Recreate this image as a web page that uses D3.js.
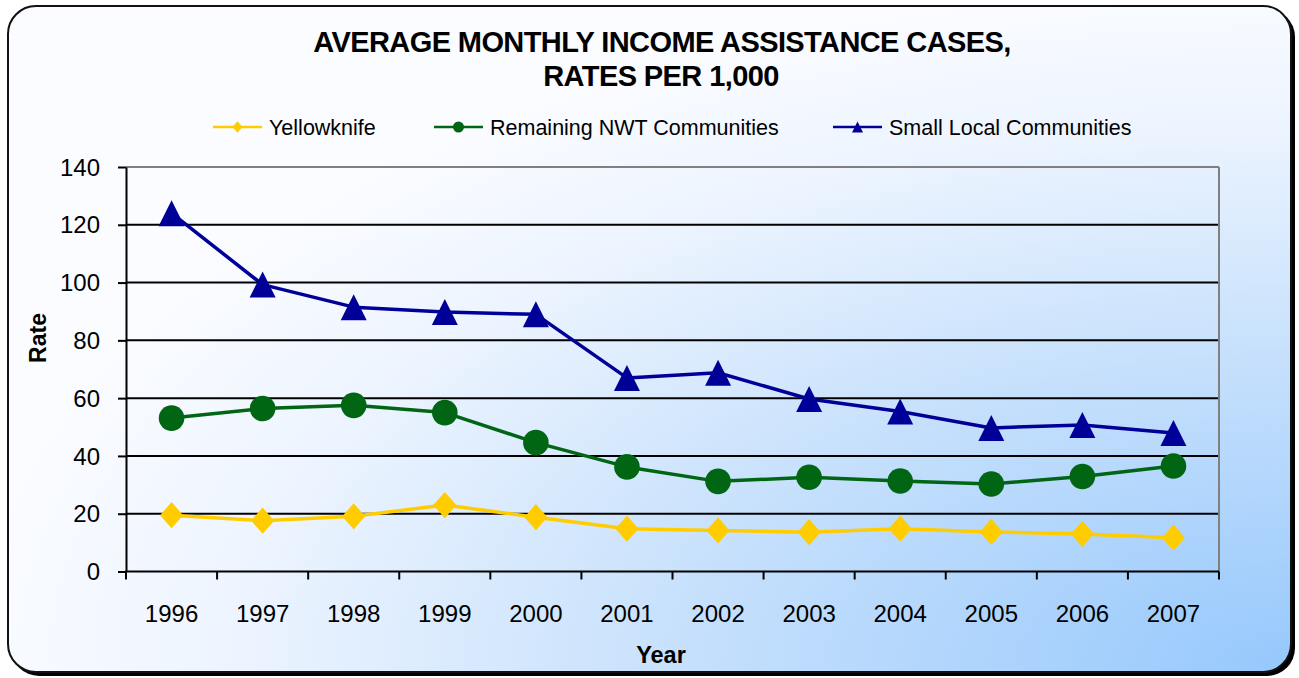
<!DOCTYPE html>
<html>
<head>
<meta charset="utf-8">
<script src="https://cdn.jsdelivr.net/npm/d3@7"></script>
<style>
  html, body { margin: 0; padding: 0; background: #ffffff; }
  svg { display: block; }
  text { font-family: "Liberation Sans", Arial, sans-serif; }
</style>
</head>
<body>
<svg id="chart" width="1299" height="678"></svg>
<script>
// ---- data ----
const years = ["1996","1997","1998","1999","2000","2001","2002","2003","2004","2005","2006","2007"];
const yellowknife = [19.5, 17.6, 19.1, 23.0, 18.8, 14.8, 14.2, 13.6, 14.8, 13.7, 13.0, 11.7];
const remainingNWT = [53.1, 56.4, 57.5, 55.0, 44.6, 36.2, 31.2, 32.6, 31.3, 30.3, 32.9, 36.5];
const smallLocal = [124.0, 99.3, 91.5, 89.8, 89.0, 67.0, 68.8, 59.7, 55.4, 49.7, 50.7, 47.9];
const yTicks = [0, 20, 40, 60, 80, 100, 120, 140];
const seriesNames = ["Yellowknife", "Remaining NWT Communities", "Small Local Communities"];
const titleLines = ["AVERAGE MONTHLY INCOME ASSISTANCE CASES,", "RATES PER 1,000"];

const svg = d3.select("#chart");

// ---- background / frame ----
const defs = svg.append("defs");
const grad = defs.append("radialGradient")
  .attr("id", "bg").attr("cx", 1).attr("cy", 1).attr("r", 1.05)
  .attr("fx", 1).attr("fy", 1);
grad.append("stop").attr("offset", "0%").attr("stop-color", "#96c8fc");
grad.append("stop").attr("offset", "45%").attr("stop-color", "#c6e0fc");
grad.append("stop").attr("offset", "80%").attr("stop-color", "#eef5ff");
grad.append("stop").attr("offset", "100%").attr("stop-color", "#fbfcff");

svg.append("rect").attr("x", 11).attr("y", 9).attr("width", 1284).attr("height", 667)
  .attr("rx", 28).attr("fill", "#000");
svg.append("rect").attr("x", 8).attr("y", 6).attr("width", 1283).attr("height", 666)
  .attr("rx", 28).attr("fill", "url(#bg)").attr("stroke", "#111").attr("stroke-width", 2);

// ---- scales ----
const plot = { left: 126, right: 1219, top: 167, bottom: 571.5 };
const x = d3.scaleBand().domain(years).range([plot.left, plot.right]).padding(0);
const y = d3.scaleLinear().domain([0, 140]).range([plot.bottom, plot.top]);
const cx = d => x(d) + x.bandwidth() / 2;

// ---- gridlines ----
svg.append("g").selectAll("line").data(yTicks.filter(t => t > 0 && t < 140)).join("line")
  .attr("x1", plot.left).attr("x2", plot.right)
  .attr("y1", d => y(d)).attr("y2", d => y(d))
  .attr("stroke", "#000").attr("stroke-width", 2);
// top & right border (grey)
svg.append("line").attr("x1", plot.left).attr("x2", plot.right).attr("y1", y(140)).attr("y2", y(140))
  .attr("stroke", "#808080").attr("stroke-width", 2);
svg.append("line").attr("x1", plot.right).attr("x2", plot.right).attr("y1", y(140)).attr("y2", y(0))
  .attr("stroke", "#808080").attr("stroke-width", 2);

// ---- y axis ----
const yAxis = svg.append("g").attr("transform", `translate(${plot.left},0)`)
  .call(d3.axisLeft(y).tickValues(yTicks).tickSize(8).tickSizeOuter(0).tickPadding(18));
yAxis.select(".domain").attr("stroke", "#000").attr("stroke-width", 2);
yAxis.selectAll(".tick line").attr("stroke", "#000").attr("stroke-width", 2);
yAxis.selectAll(".tick text").attr("font-size", 24).attr("fill", "#000")
  .attr("font-family", "Liberation Sans, Arial, sans-serif").attr("dy", "0.34em");

// ---- x axis ----
const xAxis = svg.append("g").attr("transform", `translate(0,${plot.bottom})`)
  .call(d3.axisBottom(x).tickSize(0).tickSizeOuter(0).tickPadding(33));
xAxis.select(".domain").remove();
xAxis.selectAll(".tick text").attr("font-size", 24).attr("fill", "#000")
  .attr("font-family", "Liberation Sans, Arial, sans-serif");
svg.append("line").attr("x1", plot.left - 1).attr("x2", plot.right).attr("y1", plot.bottom).attr("y2", plot.bottom)
  .attr("stroke", "#000").attr("stroke-width", 2);
const bounds = years.map(d => x(d)).concat([x.range()[1]]);
svg.append("g").selectAll("line").data(bounds).join("line")
  .attr("x1", d => d).attr("x2", d => d)
  .attr("y1", plot.bottom).attr("y2", plot.bottom + 8)
  .attr("stroke", "#000").attr("stroke-width", 2);

// ---- axis titles ----
svg.append("text").attr("x", 661).attr("y", 663).attr("text-anchor", "middle")
  .attr("font-size", 23.5).attr("font-weight", "bold").text("Year");
svg.append("text").attr("transform", "translate(46,338) rotate(-90)").attr("text-anchor", "middle")
  .attr("font-size", 23).attr("font-weight", "bold").text("Rate");

// ---- title ----
svg.append("text").attr("x", 662).attr("y", 52).attr("text-anchor", "middle")
  .attr("font-size", 29).attr("font-weight", "bold").attr("letter-spacing", -0.6).text(titleLines[0]);
svg.append("text").attr("x", 661).attr("y", 86).attr("text-anchor", "middle")
  .attr("font-size", 29).attr("font-weight", "bold").attr("letter-spacing", -0.6).text(titleLines[1]);

// ---- markers ----
function marker(g, type, color, s) {
  if (type === "diamond") {
    g.append("path").attr("d", `M0,${-s*1.05}L${s*0.92},0L0,${s*1.05}L${-s*0.92},0Z`).attr("fill", color);
  } else if (type === "circle") {
    g.append("circle").attr("r", s).attr("fill", color);
  } else {
    g.append("path").attr("d", `M0,${-s}L${s},${s}L${-s},${s}Z`).attr("fill", color);
  }
}

const series = [
  { name: seriesNames[0], values: yellowknife, color: "#ffcc00", type: "diamond", size: 12.5 },
  { name: seriesNames[1], values: remainingNWT, color: "#006614", type: "circle", size: 12.8 },
  { name: seriesNames[2], values: smallLocal, color: "#000099", type: "triangle", size: 13 }
];

const line = d3.line().x((d, i) => cx(years[i])).y(d => y(d));
series.forEach(s => {
  svg.append("path").datum(s.values).attr("d", line)
    .attr("fill", "none").attr("stroke", s.color).attr("stroke-width", 3.5)
    .attr("stroke-linejoin", "round");
  s.values.forEach((v, i) => {
    const g = svg.append("g").attr("transform", `translate(${cx(years[i])},${y(v)})`);
    marker(g, s.type, s.color, s.size);
  });
});

// ---- legend ----
const legendPos = [213, 434, 833];
series.forEach((s, i) => {
  const lx = legendPos[i];
  svg.append("line").attr("x1", lx).attr("x2", lx + 49).attr("y1", 127).attr("y2", 127)
    .attr("stroke", s.color).attr("stroke-width", 2.5);
  const g = svg.append("g").attr("transform", `translate(${lx + 24.5},127)`);
  marker(g, s.type, s.color, 5.5);
  svg.append("text").attr("x", lx + 56).attr("y", 135).attr("font-size", 21.5).attr("fill", "#000").text(s.name);
});
</script>
</body>
</html>
